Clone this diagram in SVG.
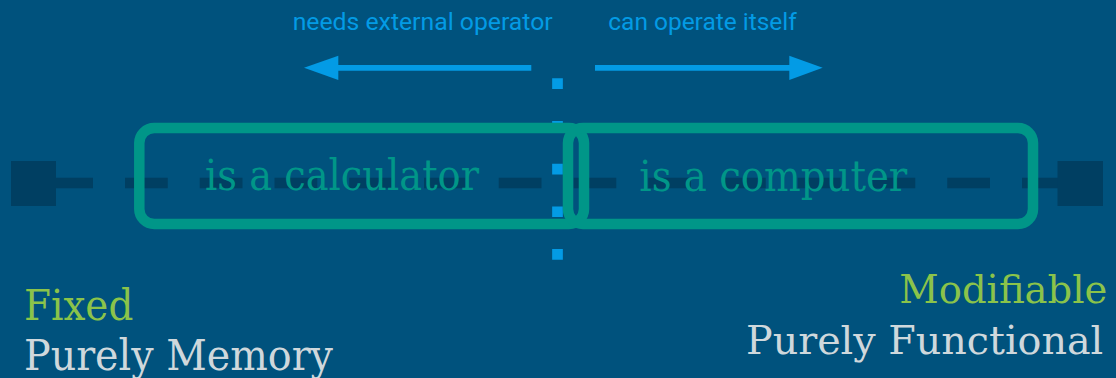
<svg xmlns="http://www.w3.org/2000/svg" width="1116" height="378" viewBox="0 0 1116 378">
  <style>
    .bg { fill: #00527d; }
    .axis { stroke: #003f62; stroke-width: 10.5; stroke-dasharray: 42.75 32; fill: none; }
    .end { fill: #003f62; }
    .divider { stroke: #039be5; stroke-width: 10.7; stroke-dasharray: 10.7 32; fill: none; }
    .shaft { stroke: #039be5; stroke-width: 5.7; fill: none; }
    .head { fill: #039be5; }
    .box { fill: none; stroke: #009688; stroke-width: 10.5; }
    .boxlabel { font-family: "DejaVu Serif", "Liberation Serif", serif; font-size: 43px; fill: #009688; }
    .hint { font-family: Roboto, "Liberation Sans", sans-serif; font-size: 24.6px; fill: #039be5; }
    .title { font-family: "DejaVu Serif", "Liberation Serif", serif; font-size: 43px; fill: #8bc34a; }
    .sub { font-family: "DejaVu Serif", "Liberation Serif", serif; font-size: 42px; fill: #cfd8dc; }
    .tight { font-size: 40px; }
  </style>

  <rect class="bg" x="0" y="0" width="1116" height="378"/>

  <!-- spectrum axis, divider and direction arrows -->
  <g id="connectors">
    <line class="axis" x1="50.25" y1="183" x2="1080" y2="183"/>
    <line class="divider" x1="557.5" y1="78.3" x2="557.5" y2="260"/>
    <line class="shaft" x1="336" y1="67.8" x2="531.3" y2="67.8"/>
    <polygon class="head" points="304,67.8 338.3,55.7 338.3,80"/>
    <line class="shaft" x1="595" y1="67.8" x2="791" y2="67.8"/>
    <polygon class="head" points="822.7,67.8 789.3,55.7 789.3,80"/>
  </g>

  <!-- axis end caps -->
  <g id="end-left">
    <rect class="end" x="11" y="161" width="45" height="45"/>
  </g>
  <g id="end-right">
    <rect class="end" x="1057.5" y="161" width="45.5" height="45"/>
  </g>

  <g id="calculator">
    <rect class="box" x="139.3" y="128" width="444.7" height="96" rx="15"/>
    <text class="boxlabel" x="205" y="190" textLength="274" lengthAdjust="spacingAndGlyphs">is a calculator</text>
  </g>

  <g id="computer">
    <rect class="box" x="568" y="128" width="465" height="96" rx="15"/>
    <text class="boxlabel" x="639.3" y="191" textLength="268" lengthAdjust="spacingAndGlyphs">is a computer</text>
  </g>

  <g id="hint-left">
    <text class="hint" x="292.7" y="30" textLength="260" lengthAdjust="spacingAndGlyphs">needs external operator</text>
  </g>
  <g id="hint-right">
    <text class="hint" x="608.3" y="30" textLength="188.4" lengthAdjust="spacingAndGlyphs">can operate itself</text>
  </g>

  <g id="fixed">
    <text class="title" x="24" y="320" textLength="109.3" lengthAdjust="spacingAndGlyphs">Fixed</text>
    <text class="sub" x="24" y="370" textLength="309" lengthAdjust="spacingAndGlyphs">Purely Memory</text>
  </g>

  <g id="modifiable">
    <text class="title tight" x="899.3" y="303.3" textLength="208" lengthAdjust="spacingAndGlyphs">Modifiable</text>
    <text class="sub tight" x="746" y="354.3" textLength="357.3" lengthAdjust="spacingAndGlyphs">Purely Functional</text>
  </g>
</svg>
